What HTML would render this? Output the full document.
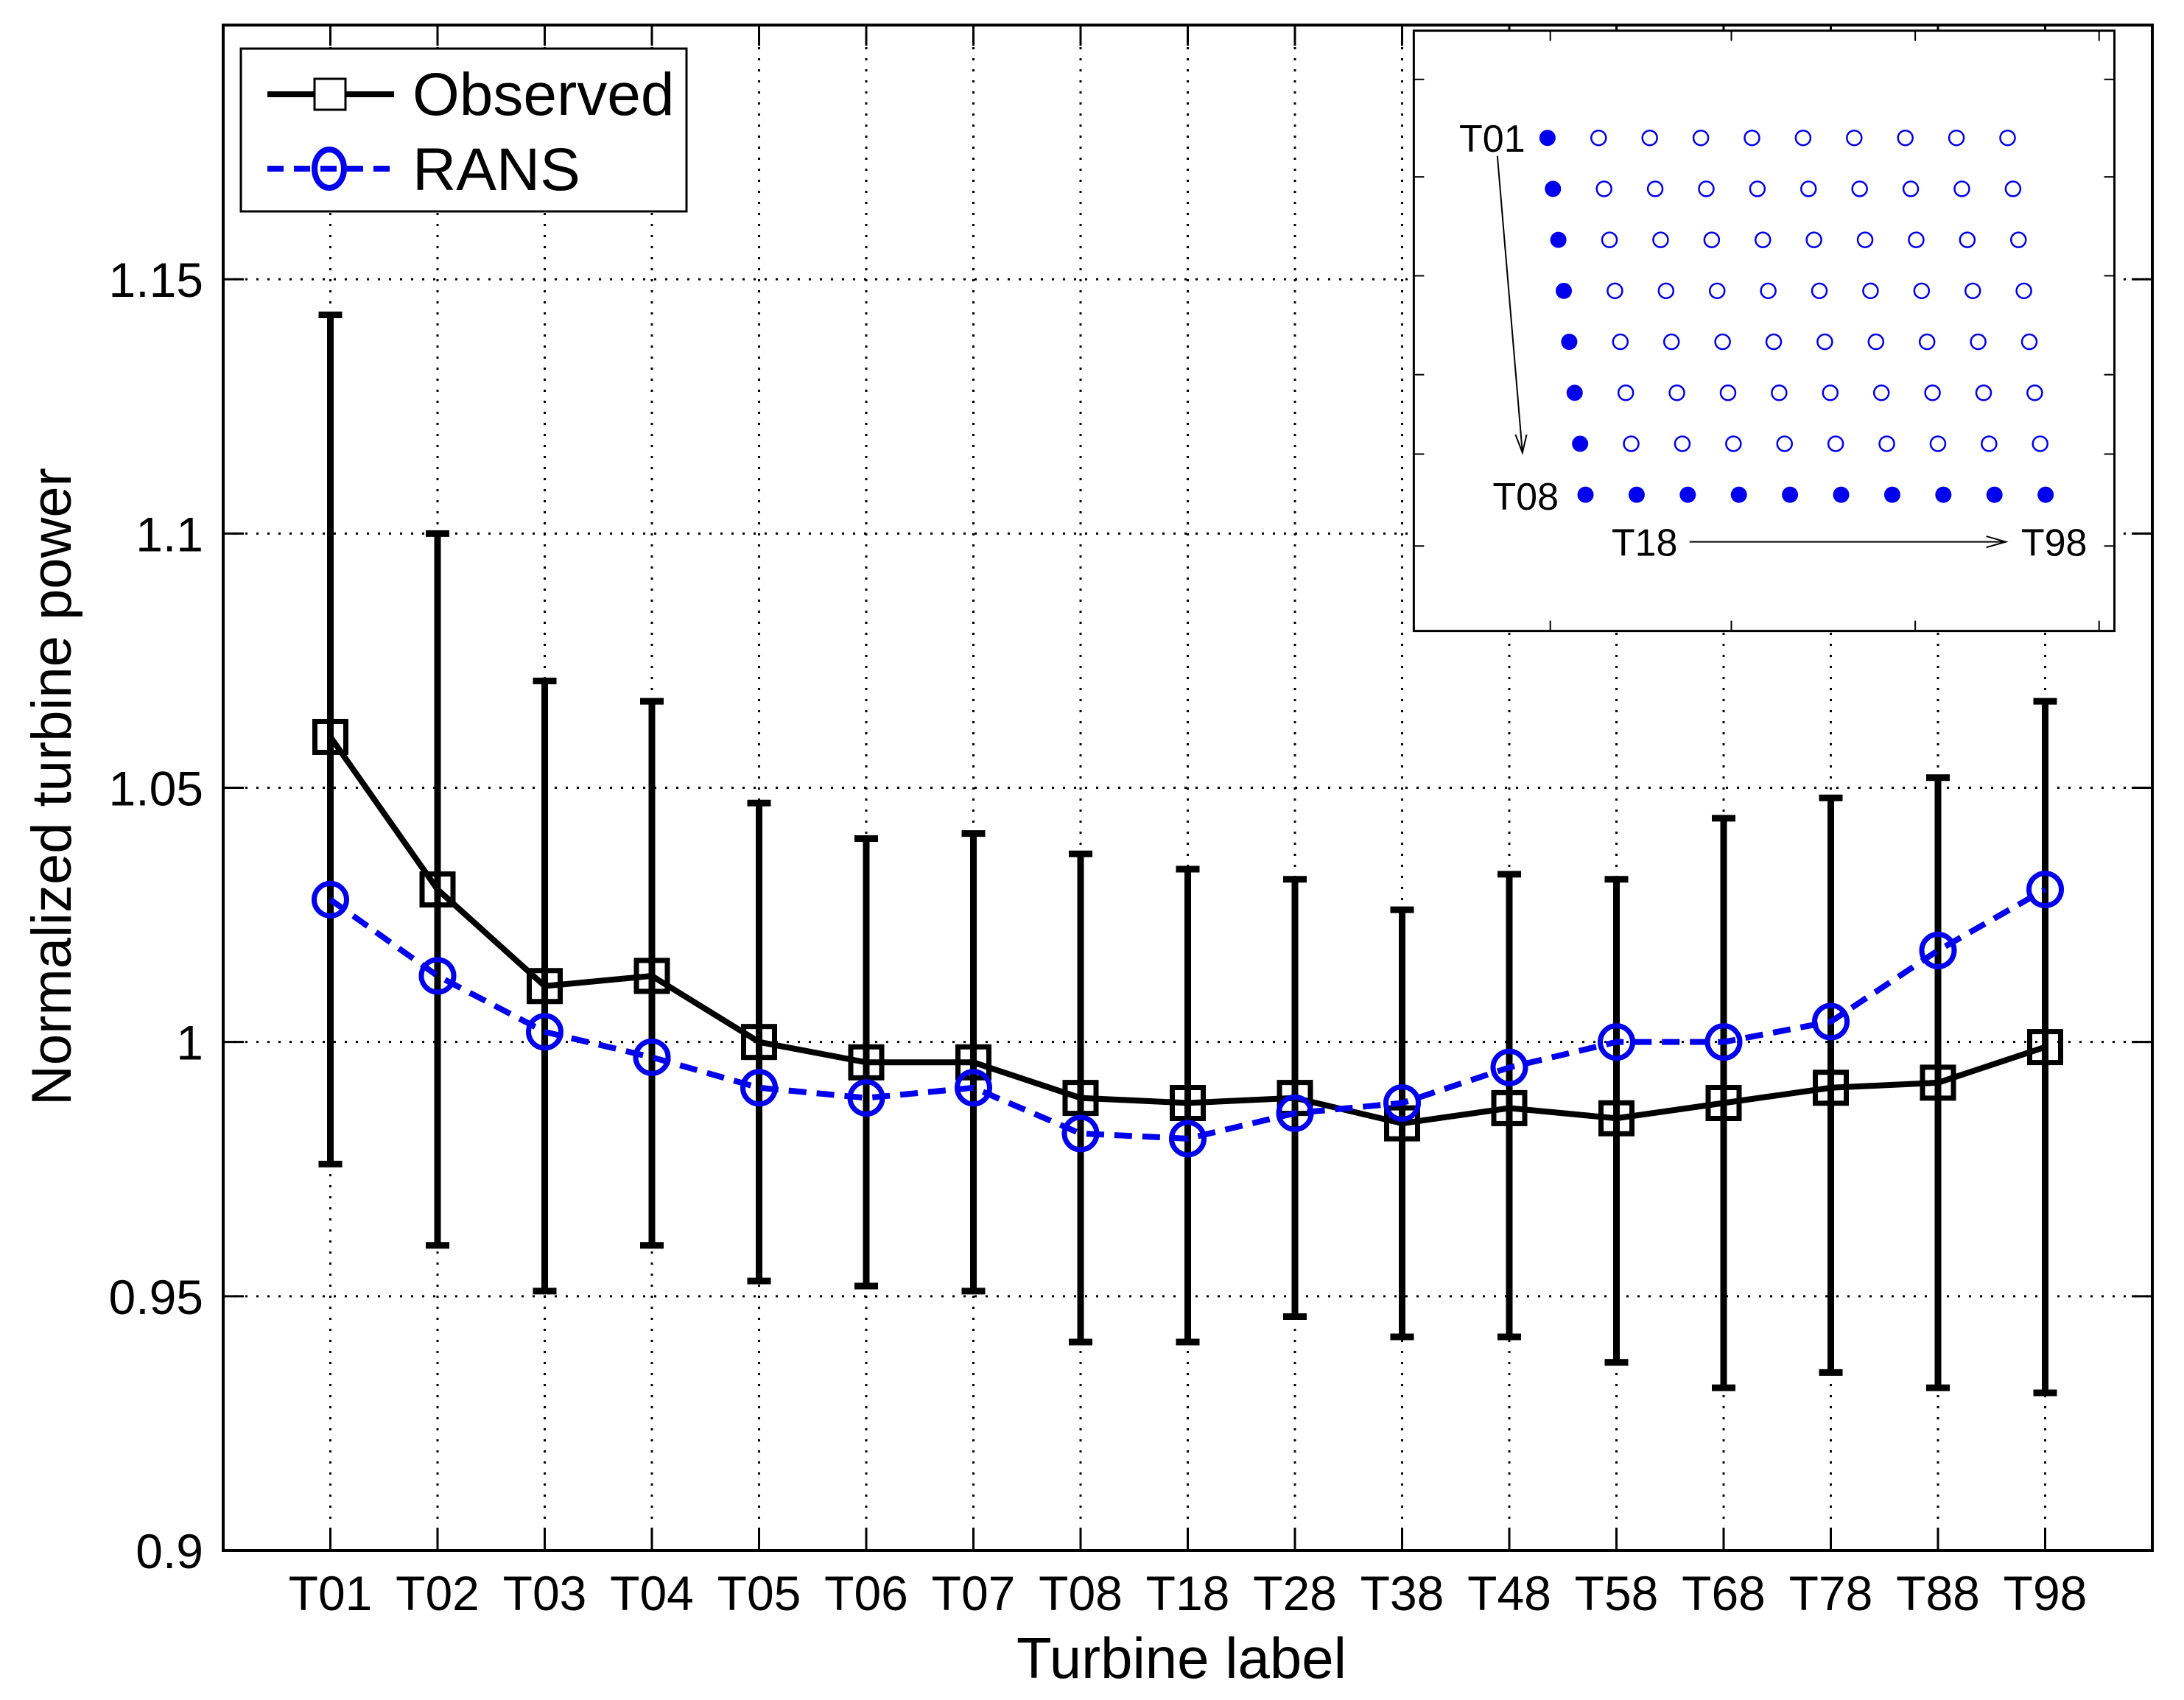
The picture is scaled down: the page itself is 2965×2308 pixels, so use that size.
<!DOCTYPE html>
<html><head><meta charset="utf-8"><style>
html,body{margin:0;padding:0;background:#fff;}
svg{display:block;font-family:"Liberation Sans",Arial,sans-serif;}
</style></head><body>
<svg id="chart" width="2965" height="2308" viewBox="0 0 2965 2308" xmlns="http://www.w3.org/2000/svg">
<rect x="0" y="0" width="2965" height="2308" fill="#fff"/>
<g id="grid"></g>
<g id="axes"></g>
<g id="series"></g>
<text x="0" y="0" transform="translate(96,1068) rotate(-90)" text-anchor="middle" font-size="76">Normalized turbine power</text>
<text x="1604" y="2278" text-anchor="middle" font-size="78">Turbine label</text>
<g>
<rect x="327" y="66" width="605" height="221" fill="#fff" stroke="#000" stroke-width="3"/>
<line x1="363" y1="128" x2="535" y2="128" stroke="#000" stroke-width="8"/>
<rect x="427" y="107" width="42" height="42" fill="#fff" stroke="#000" stroke-width="3"/>
<text x="560" y="156" font-size="82">Observed</text>
<line x1="363" y1="229" x2="535" y2="229" stroke="#0000ee" stroke-width="8" stroke-dasharray="22,14"/>
<ellipse cx="447" cy="229" rx="20" ry="26" fill="none" stroke="#0000ee" stroke-width="8"/>
<text x="560" y="258" font-size="82">RANS</text>
</g>
<g id="inset"></g>
</svg>
<script>
const categories=["T01","T02","T03","T04","T05","T06","T07","T08","T18","T28","T38","T48","T58","T68","T78","T88","T98"];
const observed=[1.060,1.030,1.011,1.013,1.000,0.996,0.996,0.989,0.988,0.989,0.984,0.987,0.985,0.988,0.991,0.992,0.999];
const obsUpper=[1.143,1.100,1.071,1.067,1.047,1.040,1.041,1.037,1.034,1.032,1.026,1.033,1.032,1.044,1.048,1.052,1.067];
const obsLower=[0.976,0.960,0.951,0.960,0.953,0.952,0.951,0.941,0.941,0.946,0.942,0.942,0.937,0.932,0.935,0.932,0.931];
const rans=[1.028,1.013,1.002,0.997,0.991,0.989,0.991,0.982,0.981,0.986,0.988,0.995,1.000,1.000,1.004,1.018,1.030];
const yTicks=[0.9,0.95,1,1.05,1.1,1.15];
const yTickLabels=["0.9","0.95","1","1.05","1.1","1.15"];
const NS="http://www.w3.org/2000/svg";
const L=303,R=2922,T=34,B=2105,YMIN=0.9,YMAX=1.2,XMAX=18;
function xs(i){return L+(i+1)/XMAX*(R-L);}
function ys(v){return B-(v-YMIN)/(YMAX-YMIN)*(B-T);}
function mk(tag,attrs,parent){const e=document.createElementNS(NS,tag);for(const k in attrs)e.setAttribute(k,attrs[k]);parent.appendChild(e);return e;}
const grid=document.getElementById('grid'),axes=document.getElementById('axes'),ser=document.getElementById('series');
categories.forEach((c,i)=>{
  const g=mk('line',{x1:xs(i),x2:xs(i),y1:T,y2:B,stroke:'#000','stroke-width':3,'stroke-dasharray':'3,12'},grid);
  
  
  mk('line',{x1:xs(i),x2:xs(i),y1:B,y2:B-28,stroke:'#000','stroke-width':3},axes);
  mk('line',{x1:xs(i),x2:xs(i),y1:T,y2:T+28,stroke:'#000','stroke-width':3},axes);
  const t=mk('text',{x:xs(i),y:2186,'text-anchor':'middle','font-size':66},axes);
  t.textContent=c;
  
  
});
yTicks.forEach((v,i)=>{
  if(i>0){const g=mk('line',{x1:L,x2:R,y1:ys(v),y2:ys(v),stroke:'#000','stroke-width':3,'stroke-dasharray':'3,12'},grid);
  
  }
  mk('line',{x1:L,x2:L+28,y1:ys(v),y2:ys(v),stroke:'#000','stroke-width':3},axes);
  mk('line',{x1:R,x2:R-28,y1:ys(v),y2:ys(v),stroke:'#000','stroke-width':3},axes);
  const t=mk('text',{x:276,y:ys(v)+24,'text-anchor':'end','font-size':66},axes);
  t.textContent=yTickLabels[i];
  
  
});
mk('rect',{x:L,y:T,width:R-L,height:B-T,fill:'none',stroke:'#000','stroke-width':4},axes);
categories.forEach((c,i)=>{
  const x=xs(i);
  const e=mk('path',{d:`M${x},${ys(obsUpper[i])}V${ys(obsLower[i])}M${x-16},${ys(obsUpper[i])}H${x+16}M${x-16},${ys(obsLower[i])}H${x+16}`,stroke:'#000','stroke-width':9,fill:'none'},ser);
  
  
});
const op=mk('polyline',{points:observed.map((v,i)=>xs(i)+','+ys(v)).join(' '),fill:'none',stroke:'#000','stroke-width':8},ser);


observed.forEach((v,i)=>{
  const r=mk('rect',{x:xs(i)-21,y:ys(v)-21,width:42,height:42,fill:'none',stroke:'#000','stroke-width':7},ser);
  
  
});
const rp=mk('polyline',{points:rans.map((v,i)=>xs(i)+','+ys(v)).join(' '),fill:'none',stroke:'#0000ee','stroke-width':8,'stroke-dasharray':'24,14'},ser);


rans.forEach((v,i)=>{
  const c=mk('circle',{cx:xs(i),cy:ys(v),r:22,fill:'none',stroke:'#0000ee','stroke-width':7},ser);
  
  
});
const ins=document.getElementById('inset');
const s=1.891;
mk('rect',{x:1015*s,y:22*s,width:503*s,height:431*s,fill:'#fff',stroke:'#000','stroke-width':3},ins);
[1113,1243,1375,1507].forEach(x=>{
  mk('line',{x1:x*s,x2:x*s,y1:22*s,y2:22*s+14,stroke:'#000','stroke-width':2},ins);
  mk('line',{x1:x*s,x2:x*s,y1:453*s,y2:453*s-14,stroke:'#000','stroke-width':2},ins);
});
[57,127,198,269,326,392].forEach(y=>{
  mk('line',{x1:1015*s,x2:1015*s+14,y1:y*s,y2:y*s,stroke:'#000','stroke-width':2},ins);
  mk('line',{x1:1518*s,x2:1518*s-14,y1:y*s,y2:y*s,stroke:'#000','stroke-width':2},ins);
});
for(let r=0;r<8;r++){for(let c=0;c<10;c++){
  const cx=(1111+r*3.9+c*36.7)*s, cy=(99+r*36.6)*s;
  const filled=(c===0||r===7);
  const d=mk('circle',{cx:cx,cy:cy,r:filled?11:10,fill:filled?'#0000ee':'none',stroke:'#0000ee','stroke-width':filled?0:2.5},ins);
  
  
}}
function lab(t,x,y,a){const e=mk('text',{x:x*s,y:y*s,'text-anchor':a,'font-size':52},ins);e.textContent=t;}
lab('T01',1095,109,'end');lab('T08',1119,366,'end');lab('T18',1157,399,'start');lab('T98',1451,399,'start');
mk('path',{d:`M${1075*s},${112*s}L${1093*s},${325*s}M${1088*s},${312*s}L${1093*s},${325*s}L${1096*s},${312*s}`,stroke:'#000','stroke-width':2,fill:'none'},ins);
mk('path',{d:`M${1213*s},${389*s}H${1440*s}M${1426*s},${385*s}L${1440*s},${389*s}L${1426*s},${393*s}`,stroke:'#000','stroke-width':2,fill:'none'},ins);
</script>
</body></html>
